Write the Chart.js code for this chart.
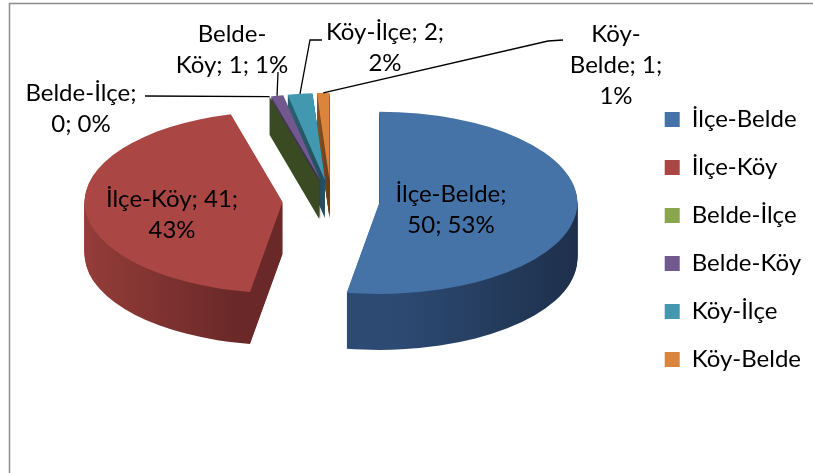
<!DOCTYPE html>
<html><head><meta charset="utf-8">
<script src="https://cdn.jsdelivr.net/npm/chart.js@4"></script>
<style>html,body{margin:0;padding:0;background:#fff}#wrap{width:813px;height:473px}</style>
</head><body><div id="wrap"><canvas id="c" width="813" height="473"></canvas></div>
<script>
// ---- data ----
const categories = ['İlçe-Belde', 'İlçe-Köy', 'Belde-İlçe', 'Belde-Köy', 'Köy-İlçe', 'Köy-Belde'];
const values = [50, 41, 0, 1, 2, 1];

// ---- styles ----
const topColors = ['#4572A7', '#AA4643', '#89A54E', '#71588F', '#4198AF', '#DB843D'];
const sideFrom = ['#2D4A73', '#A2433F', '#3A4A22', '#4C3A63', '#2B6474', '#8E5224'];
const sideTo   = ['#1A2941', '#6A2928', '#323F1C', '#3B2E50', '#22505D', '#6B3E18'];
const explodePx = [48.5, 48.5, 45, 45, 45, 45];
const radiusScale = [1, 1, 0.96, 0.96, 0.96, 0.96];
const depthPx = [56, 52, 38, 38, 38, 38];
const K = 0.46, CXS = 331, CYS = 201, RADIUS = 198;
const FS = 24, LINE_H = 31, FONT = 'Lato';
const labelBreaks = [[2], [3], [2], [1], [3], [1, 3]];
const labelLayout = [
  {dx: 120, dy: 1},
  {dx: -159, dy: 6},
  {dx: -250, dy: -100, leader: [[64, -5]]},
  {dx: -99, dy: -159, leader: [[46, 30]]},
  {dx: 54, dy: -161, leader: [[-63, 0], [-75, 0]]},
  {dx: 285, dy: -159, leader: [[-53, -2], [-68, -1]]}
];

const total = values.reduce((a, b) => a + b, 0);
function labelLines(i) {
  const s = categories[i] + '; ' + values[i] + '; ' + Math.round(values[i] / total * 100) + '%';
  const tokens = s.match(/[^\s-]+-|[^\s-]+\s*/g);
  const lines = [];
  let cur = '';
  tokens.forEach((t, k) => {
    if (labelBreaks[i].includes(k)) { lines.push(cur.trim()); cur = ''; }
    cur += t;
  });
  lines.push(cur.trim());
  return lines;
}

function pieCenter(chart) { const a = chart.getDatasetMeta(0).data[0]; return {x: a.x, y: a.y}; }
function applyView(ctx, chart) {
  const c = pieCenter(chart);
  ctx.translate(CXS, CYS); ctx.scale(1, K); ctx.translate(-c.x, -c.y);
}
function toScreen(chart, x, y) {
  const c = pieCenter(chart);
  return {x: CXS + (x - c.x), y: CYS + (y - c.y) * K};
}
// exploded geometry of slice i (chart coordinates)
function arcGeom(arc, i) {
  const mid = (arc.startAngle + arc.endAngle) / 2;
  const e = explodePx[i];
  return {mid, e, vx: arc.x + Math.cos(mid) * e, vy: arc.y + Math.sin(mid) * e, R: arc.outerRadius * radiusScale[i]};
}
function arcPoint(chart, arc, i, frac) {
  const g = arcGeom(arc, i);
  return toScreen(chart, g.vx + Math.cos(g.mid) * g.R * frac, g.vy + Math.sin(g.mid) * g.R * frac);
}
// draw one slice through its own ArcElement, exploded, lowered by d screen px
function drawSlice(ctx, arc, i, d, fill) {
  if (arc.circumference === 0) return;
  const g = arcGeom(arc, i);
  const o = arc.options;
  const ov = Object.create(o);
  Object.defineProperty(ov, 'backgroundColor', {value: fill});
  Object.defineProperty(ov, 'offset', {value: 0});
  arc.options = ov;
  ctx.save();
  ctx.translate(0, d / K);
  ctx.translate(g.vx, g.vy);
  ctx.scale(radiusScale[i], radiusScale[i]);
  ctx.translate(-arc.x, -arc.y);
  arc.draw(ctx);
  ctx.restore();
  arc.options = o;
}

const bgPlugin = {
  id: 'bg',
  beforeDraw(chart) {
    const ctx = chart.ctx;
    ctx.save();
    ctx.fillStyle = '#fff'; ctx.fillRect(0, 0, chart.width, chart.height);
    ctx.strokeStyle = '#8c8c8c'; ctx.lineWidth = 1.5;
    ctx.beginPath(); ctx.moveTo(9.5, chart.height + 5); ctx.lineTo(9.5, 3.5); ctx.lineTo(chart.width + 5, 3.5); ctx.stroke();
    ctx.restore();
  }
};

const pie3d = {
  id: 'pie3d',
  beforeDatasetsDraw(chart) {
    const ctx = chart.ctx;
    const arcs = chart.getDatasetMeta(0).data;
    ctx.save();
    applyView(ctx, chart);
    const grads = arcs.map((arc, i) => {
      const g0 = arcGeom(arc, i);
      let mn = g0.vx, mx = g0.vx;
      for (let s = 0; s <= 60; s++) {
        const t = arc.startAngle + (arc.endAngle - arc.startAngle) * s / 60;
        const x = g0.vx + Math.cos(t) * g0.R;
        mn = Math.min(mn, x); mx = Math.max(mx, x);
      }
      const g = ctx.createLinearGradient(mn, 0, mx + 0.01, 0);
      g.addColorStop(0, sideFrom[i]); g.addColorStop(1, sideTo[i]);
      return g;
    });
    const maxD = Math.max(...depthPx);
    for (let d = maxD; d >= 1; d--) {
      arcs.forEach((arc, i) => { if (d <= depthPx[i]) drawSlice(ctx, arc, i, d, grads[i]); });
    }
    ctx.restore();
    // radial wall of zero-size slices
    arcs.forEach((arc, i) => {
      if (arc.circumference !== 0) return;
      const v = arcPoint(chart, arc, i, 0), p = arcPoint(chart, arc, i, 1);
      ctx.save();
      ctx.fillStyle = sideFrom[i];
      ctx.beginPath();
      ctx.moveTo(p.x, p.y); ctx.lineTo(v.x, v.y); ctx.lineTo(v.x, v.y + depthPx[i]); ctx.lineTo(p.x, p.y + depthPx[i]);
      ctx.closePath(); ctx.fill();
      ctx.restore();
    });
    // top faces
    ctx.save();
    applyView(ctx, chart);
    arcs.forEach((arc, i) => drawSlice(ctx, arc, i, 0, arc.options.backgroundColor));
    ctx.restore();
    return false;
  }
};

const labelPlugin = {
  id: 'pieLabels',
  afterDraw(chart) {
    const ctx = chart.ctx;
    const arcs = chart.getDatasetMeta(0).data;
    ctx.save();
    ctx.font = FS + 'px ' + FONT;
    ctx.fillStyle = '#000'; ctx.strokeStyle = '#000'; ctx.lineWidth = 1.3;
    ctx.textAlign = 'center'; ctx.textBaseline = 'alphabetic';
    arcs.forEach((arc, i) => {
      const L = labelLayout[i];
      const x = CXS + L.dx, y0 = CYS + L.dy;
      labelLines(i).forEach((t, j) => ctx.fillText(t, x, y0 + j * LINE_H));
      if (L.leader) {
        const a = arcPoint(chart, arc, i, 1);
        ctx.beginPath();
        ctx.moveTo(x + L.leader[0][0], y0 + L.leader[0][1]);
        for (let k = 1; k < L.leader.length; k++) ctx.lineTo(x + L.leader[k][0], y0 + L.leader[k][1]);
        ctx.lineTo(a.x, a.y);
        ctx.stroke();
      }
    });
    ctx.restore();
  }
};

new Chart(document.getElementById('c'), {
  type: 'pie',
  data: {
    labels: categories,
    datasets: [{
      data: values,
      backgroundColor: topColors,
      borderWidth: 0,
      radius: RADIUS,
      clip: false
    }]
  },
  options: {
    responsive: false,
    animation: false,
    events: [],
    layout: {padding: {top: 6, right: 2}},
    plugins: {
      legend: {
        position: 'right',
        labels: {font: {family: FONT, size: FS}, color: '#000', boxWidth: 15, boxHeight: 15, padding: 48 - FS}
      },
      tooltip: {enabled: false}
    }
  },
  plugins: [bgPlugin, pie3d, labelPlugin]
});
</script>
</body></html>
